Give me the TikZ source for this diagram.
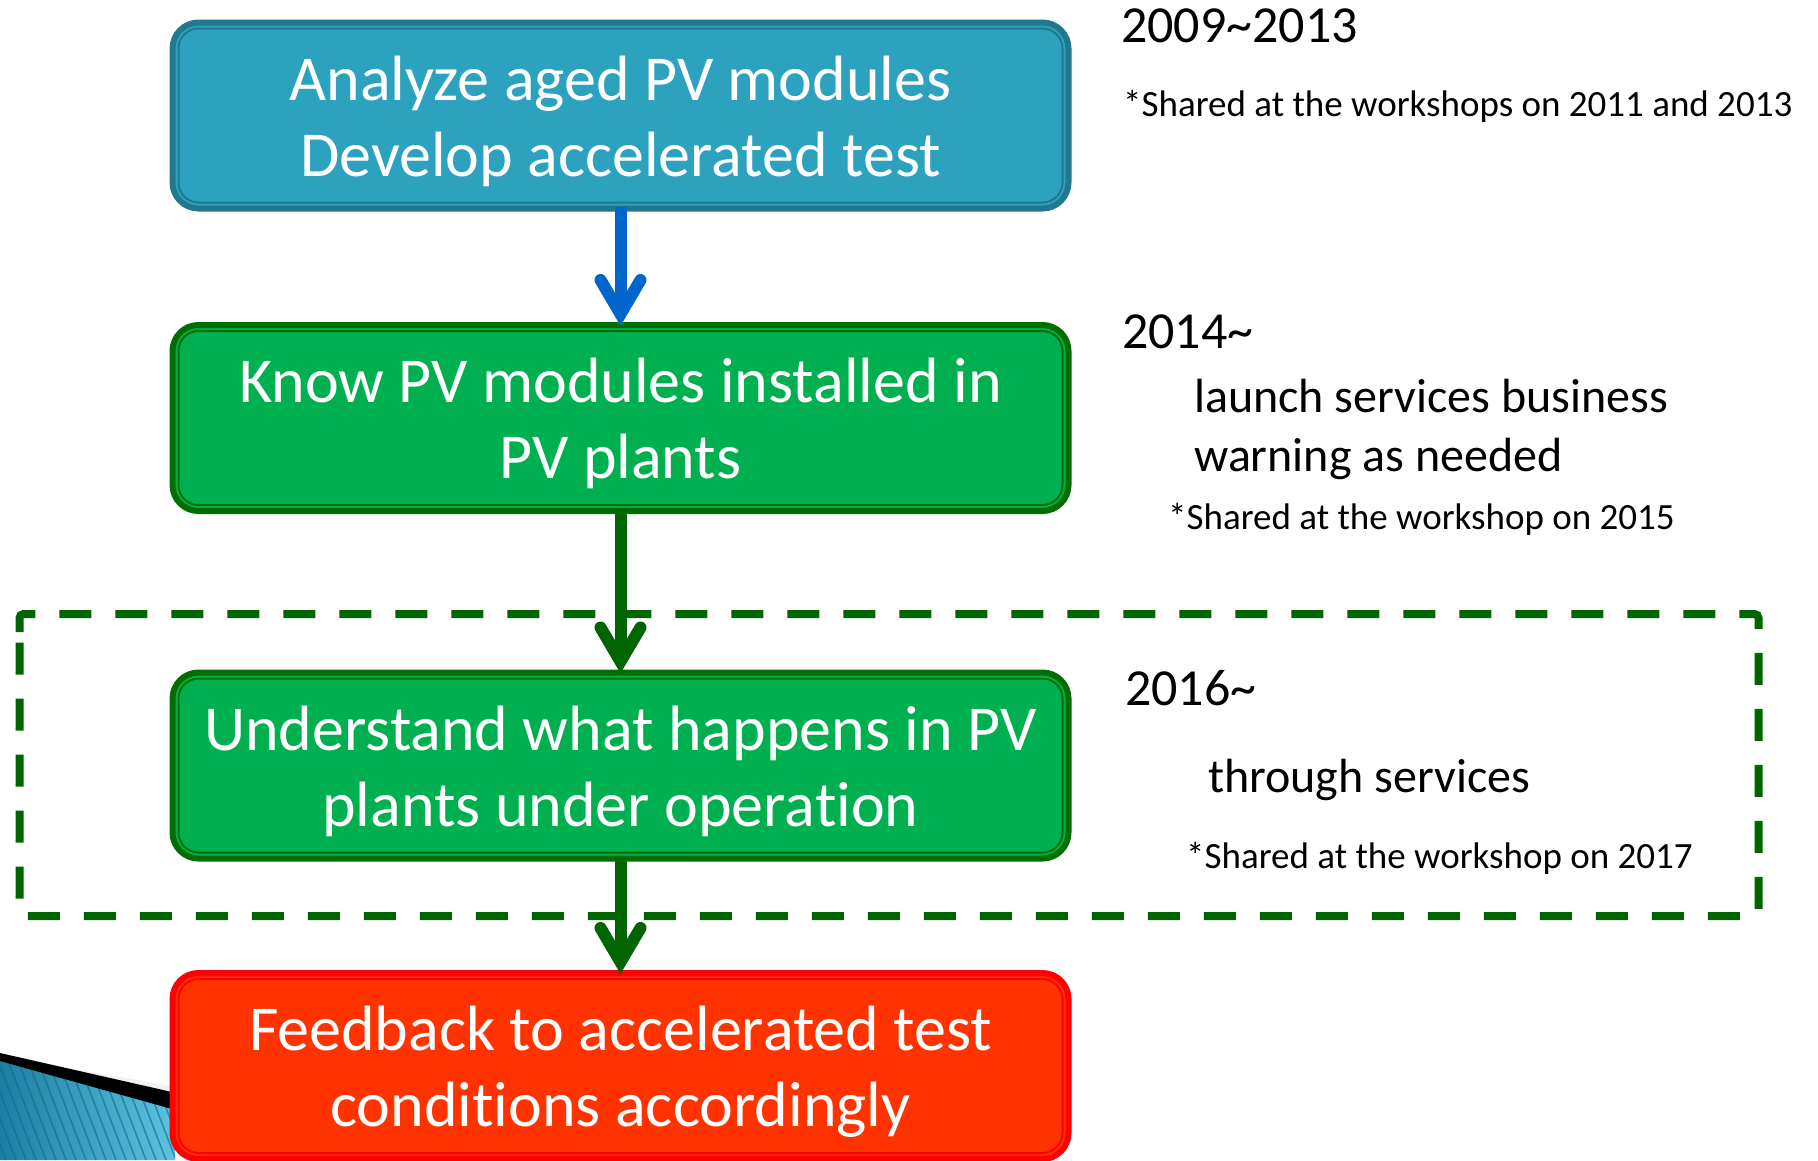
\documentclass[tikz,border=0pt]{standalone}
\usepackage{fontspec}
\setmainfont[Ligatures=NoCommon]{Carlito}
\usetikzlibrary{calc}
\definecolor{bluefill}{HTML}{2DA2BF}
\definecolor{blueborder}{HTML}{22798E}
\definecolor{greenfill}{HTML}{00B050}
\definecolor{greenborder}{HTML}{006E00}
\definecolor{redfill}{HTML}{FF3300}
\definecolor{redborder}{HTML}{FF0000}
\definecolor{arrowblue}{HTML}{0066CC}
\definecolor{darkgreen}{HTML}{006400}
\definecolor{decoA}{HTML}{1B7FA3}
\definecolor{decoB}{HTML}{5CC3E0}
\definecolor{decoStripe}{HTML}{18688A}
\begin{document}
\begin{tikzpicture}[x=1pt,y=-1pt,
  boxbase/.style={rectangle, rounded corners=26pt, line width=6pt,
    minimum width=896pt, minimum height=186pt, inner sep=0pt,
    text=white, align=center, font=\fontsize{64}{76}\selectfont},
  innerline/.style={line width=2pt, rounded corners=20pt},
  shaft/.style={line width=12pt},
  head/.style={line width=12pt, line cap=round, line join=miter},
  yeartxt/.style={font=\fontsize{52}{62}\selectfont, inner sep=0pt, anchor=base west},
  desctxt/.style={font=\fontsize{48}{58}\selectfont, inner sep=0pt, anchor=base west},
  sharedtxt/.style={font=\fontsize{37}{45}\selectfont, inner sep=0pt, anchor=base west},
  dashframe/.style={draw=darkgreen, line width=8pt, dash pattern=on 32pt off 24pt, rounded corners=4pt},
  stripe/.style={draw=decoStripe, line width=1.6pt, opacity=0.6}
]
\useasboundingbox (0,0) rectangle (1818,1160);

% bottom-left decoration
\begin{scope}
  \clip (0,1056) -- (175,1106) -- (175,1160) -- (0,1160) -- cycle;
  \shade[left color=decoA, right color=decoB] (0,1040) rectangle (175,1160);
  \foreach \i in {-60,-50,...,190} { \draw[stripe] (\i,1040) -- (\i+46,1160); }
\end{scope}
\fill[black!5!white] (70,1068) -- (172,1086) -- (172,1094) -- (70,1076) -- cycle;
\fill[black] (0,1053) -- (172,1092) -- (172,1109) -- (0,1061) -- cycle;

% dashed frame
\draw[dashframe] (19.5,636) -- (19.5,614) -- (1758.5,614) -- (1758.5,916) -- (19.5,916) -- cycle;

% boxes
\node[boxbase, fill=bluefill, draw=blueborder] (b1) at (620.5,115.5)
  {\rule{0pt}{56pt}Analyze aged PV modules\\Develop accelerated test};
\node[boxbase, fill=greenfill, draw=greenborder] (b2) at (620.5,418)
  {\rule{0pt}{56pt}Know PV modules installed in\\PV plants};
\node[boxbase, fill=greenfill, draw=greenborder] (b3) at (620.5,765.5)
  {\rule{0pt}{56pt}Understand what happens in PV\\plants under operation};
\node[boxbase, fill=redfill, draw=redborder] (b4) at (620.5,1066)
  {\rule{0pt}{56pt}Feedback to accelerated test\\conditions accordingly};

\draw[innerline, draw=blueborder] ([shift={(9,9)}]b1.north west) rectangle ([shift={(-9,-9)}]b1.south east);
\draw[innerline, draw=greenborder] ([shift={(9,9)}]b2.north west) rectangle ([shift={(-9,-9)}]b2.south east);
\draw[innerline, draw=greenborder] ([shift={(9,9)}]b3.north west) rectangle ([shift={(-9,-9)}]b3.south east);
\draw[innerline, draw=redborder] ([shift={(9,9)}]b4.north west) rectangle ([shift={(-9,-9)}]b4.south east);

% connectors
\draw[shaft, draw=arrowblue] ([yshift=5pt]b1.south) -- ($(b2.north)+(0,-8)$);
\draw[head, draw=arrowblue] ($(b2.north)+(-20,-42)$) -- ($(b2.north)+(0,-8)$) -- ($(b2.north)+(20,-42)$);
\draw[shaft, draw=darkgreen] ([yshift=5pt]b2.south) -- ($(b3.north)+(0,-8)$);
\draw[head, draw=darkgreen] ($(b3.north)+(-20,-42)$) -- ($(b3.north)+(0,-8)$) -- ($(b3.north)+(20,-42)$);
\draw[shaft, draw=darkgreen] ([yshift=5pt]b3.south) -- ($(b4.north)+(0,-8)$);
\draw[head, draw=darkgreen] ($(b4.north)+(-20,-42)$) -- ($(b4.north)+(0,-8)$) -- ($(b4.north)+(20,-42)$);

% right-hand texts
\node[yeartxt] (y1) at (1121,42) {2009\textasciitilde2013};
\node[sharedtxt] (s1) at (1123,116) {*Shared at the workshops on 2011 and 2013};
\node[yeartxt] (y2) at (1122,348) {2014\textasciitilde};
\node[desctxt] (d1) at (1194,412) {launch services business};
\node[desctxt] (d2) at (1194,471) {warning as needed};
\node[sharedtxt] (s2) at (1168,529) {*Shared at the workshop on 2015};
\node[yeartxt] (y3) at (1125,705) {2016\textasciitilde};
\node[desctxt] (d3) at (1208,792) {through services};
\node[sharedtxt] (s3) at (1186,868) {*Shared at the workshop on 2017};
\end{tikzpicture}
\end{document}
